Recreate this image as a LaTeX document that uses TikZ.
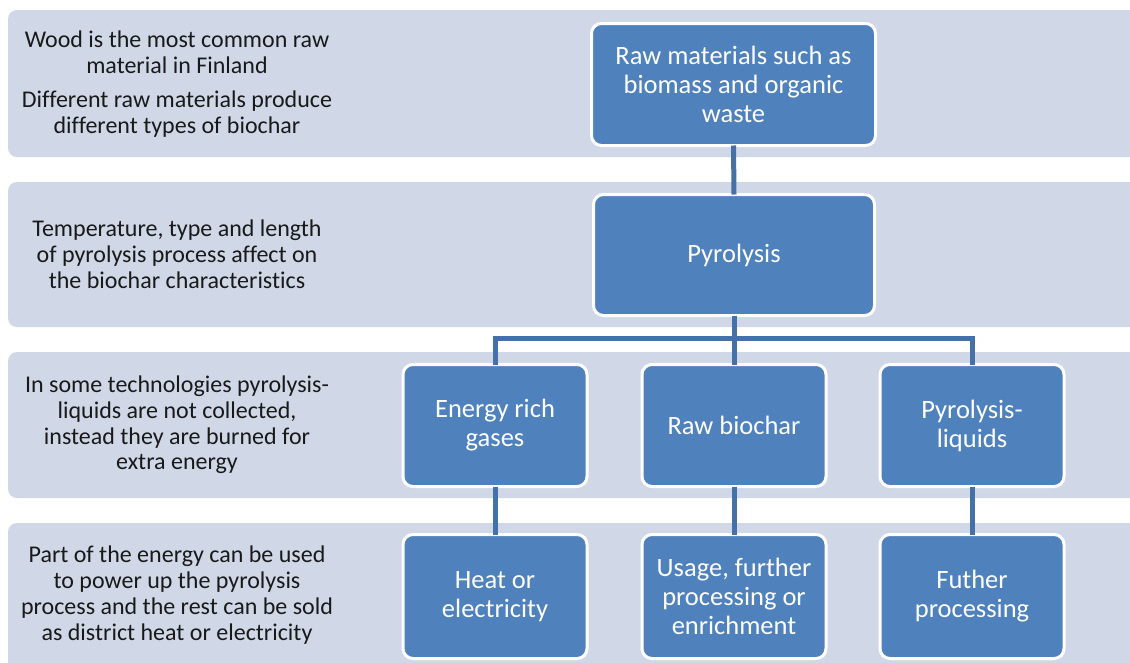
\documentclass[tikz,border=0pt]{standalone}
\usepackage{fontspec}
\setmainfont{Carlito}[Ligatures={NoCommon}]
\definecolor{band}{RGB}{208,216,232}
\definecolor{boxblue}{RGB}{79,129,189}
\definecolor{linkblue}{RGB}{68,114,168}
\begin{document}
\begin{tikzpicture}[x=1pt,y=-1pt,
  bandbox/.style={fill=band,draw=none,rounded corners=9pt},
  lefttext/.style={align=center,font=\fontsize{24}{25.8}\selectfont,text=black!90},
  bluebox/.style={fill=boxblue,draw=white,line width=3pt,rounded corners=10pt,
    text=white,align=center,font=\fontsize{26.5}{29}\selectfont,inner sep=0pt},
  link/.style={draw=linkblue,line width=5pt}]
\useasboundingbox (0,0) rectangle (1130,662);
\clip (0,0) rectangle (1130,662);
\fill[white] (0,0) rectangle (1130,662);
% bands
\path[bandbox] (8,10) rectangle (1145,157);
\path[bandbox] (8,182) rectangle (1145,327);
\path[bandbox] (8,352) rectangle (1145,498);
\path[bandbox] (8,523) rectangle (1145,672);
% left texts
\node[lefttext] (t1a) at (177,52) {Wood is the most common raw\\material in Finland};
\node[lefttext] (t1b) at (177,114) {Different raw materials produce\\different types of biochar};
\node[lefttext] (t2) at (177,254) {Temperature, type and length\\of pyrolysis process affect on\\the biochar characteristics};
\node[lefttext] (t3) at (177,425) {In some technologies pyrolysis-\\liquids are not collected,\\instead they are burned for\\extra energy};
\node[lefttext] (t4) at (177,595) {Part of the energy can be used\\to power up the pyrolysis\\process and the rest can be sold\\as district heat or electricity};
% boxes
\node[bluebox,minimum width=284pt,minimum height=122pt] (raw) at (733.5,84.5) {Raw materials such as\\biomass and organic\\waste};
\node[bluebox,minimum width=281pt,minimum height=121pt] (pyr) at (734,255) {Pyrolysis};
\node[bluebox,minimum width=184pt,minimum height=122pt] (gas) at (495,425.5) {Energy rich\\gases};
\node[bluebox,minimum width=184pt,minimum height=122pt] (char) at (734,425.5) {Raw biochar};
\node[bluebox,minimum width=184pt,minimum height=122pt] (liq) at (972,425.5) {Pyrolysis-\\liquids};
\node[bluebox,minimum width=184pt,minimum height=124pt] (heat) at (495,596.5) {Heat or\\electricity};
\node[bluebox,minimum width=184pt,minimum height=124pt] (usage) at (734,596.5) {Usage, further\\processing or\\enrichment};
\node[bluebox,minimum width=184pt,minimum height=124pt] (futher) at (972,596.5) {Futher\\processing};
% connectors
\draw[link] ([yshift=1.5pt]raw.south) -- ([yshift=-1.5pt]pyr.north);
\draw[link] ([yshift=1.5pt]pyr.south) -- ([yshift=-1.5pt]char.north);
\draw[link] ([yshift=1.5pt]pyr.south) -- ++(0,23) -| ([yshift=-1.5pt]gas.north);
\draw[link] ([yshift=1.5pt]pyr.south) -- ++(0,23) -| ([yshift=-1.5pt]liq.north);
\draw[link] ([yshift=1.5pt]gas.south) -- ([yshift=-1.5pt]heat.north);
\draw[link] ([yshift=1.5pt]char.south) -- ([yshift=-1.5pt]usage.north);
\draw[link] ([yshift=1.5pt]liq.south) -- ([yshift=-1.5pt]futher.north);
\end{tikzpicture}
\end{document}
